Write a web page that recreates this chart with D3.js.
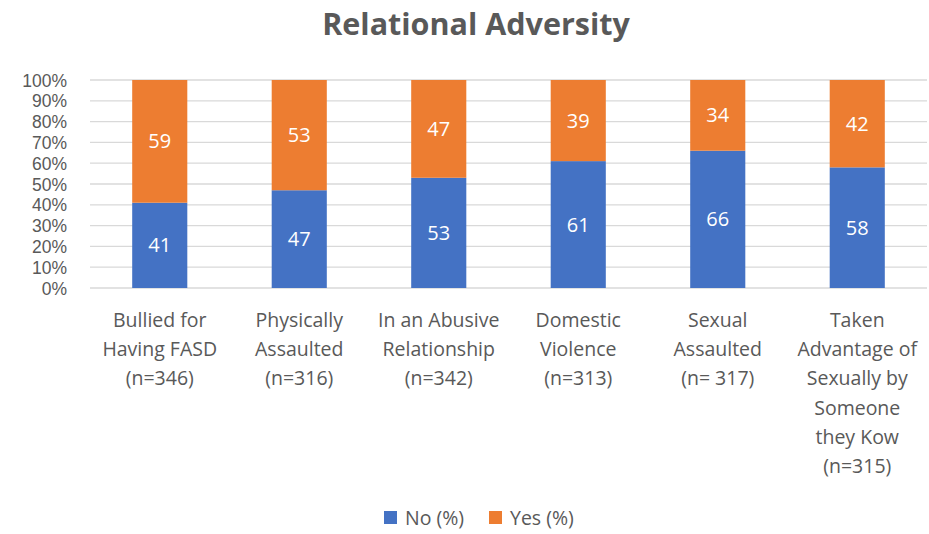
<!DOCTYPE html>
<html>
<head>
<meta charset="utf-8">
<script src="https://cdn.jsdelivr.net/npm/d3@7"></script>
<style>
  html, body { margin: 0; padding: 0; background: #fff; }
  svg { display: block; font-family: "Open Sans", "Liberation Sans", sans-serif; }
</style>
</head>
<body>
<svg id="chart" width="929" height="534"></svg>
<script>
const title = "Relational Adversity";
const categories = [
  "Bullied for Having FASD (n=346)",
  "Physically Assaulted (n=316)",
  "In an Abusive Relationship (n=342)",
  "Domestic Violence (n=313)",
  "Sexual Assaulted (n= 317)",
  "Taken Advantage of Sexually by Someone they Kow (n=315)"
];
const categoryLines = [
  ["Bullied for", "Having FASD", "(n=346)"],
  ["Physically", "Assaulted", "(n=316)"],
  ["In an Abusive", "Relationship", "(n=342)"],
  ["Domestic", "Violence", "(n=313)"],
  ["Sexual", "Assaulted", "(n= 317)"],
  ["Taken", "Advantage of", "Sexually by", "Someone", "they Kow", "(n=315)"]
];
const seriesNames = ["No (%)", "Yes (%)"];
const noValues = [41, 47, 53, 61, 66, 58];
const yesValues = [59, 53, 47, 39, 34, 42];
const yTicks = [0, 10, 20, 30, 40, 50, 60, 70, 80, 90, 100];
const colors = ["#4472C4", "#ED7D31"];

const svg = d3.select("#chart");
const x0 = 90, x1 = 927, y0 = 288, y1 = 80;

const x = d3.scaleBand().domain(categories).range([x0, x1]).paddingInner(0.605).paddingOuter(0.3025);
const y = d3.scaleLinear().domain([0, 100]).range([y0, y1]);

// gridlines
svg.append("g")
  .selectAll("line").data(yTicks).join("line")
  .attr("x1", x0).attr("x2", x1)
  .attr("y1", d => y(d)).attr("y2", d => y(d))
  .attr("stroke", "#d9d9d9").attr("stroke-width", 1.3);

// y axis labels
const yAxis = d3.axisLeft(y).tickValues(yTicks).tickFormat(d => d + "%").tickSize(0).tickPadding(0);
const yg = svg.append("g").attr("transform", `translate(67,0)`).call(yAxis);
yg.select(".domain").remove();
yg.selectAll("text").attr("fill", "#595959").style("font-size", "17.5px")
  .style("font-family", '"Liberation Sans", Arial, sans-serif').attr("dy", "0.35em");

// stacked data
const rows = categories.map((c, i) => ({ cat: c, no: noValues[i], yes: yesValues[i] }));
const stack = d3.stack().keys(["no", "yes"]);
const stacked = stack(rows);

const layer = svg.append("g").selectAll("g").data(stacked).join("g")
  .attr("fill", (d, i) => colors[i]);
layer.selectAll("rect").data(d => d).join("rect")
  .attr("x", d => x(d.data.cat))
  .attr("width", x.bandwidth())
  .attr("y", d => y(d[1]))
  .attr("height", d => y(d[0]) - y(d[1]));

// value labels
const lbl = svg.append("g").selectAll("g").data(stacked).join("g");
lbl.selectAll("text").data(d => d).join("text")
  .attr("x", d => x(d.data.cat) + x.bandwidth() / 2)
  .attr("y", d => (y(d[0]) + y(d[1])) / 2)
  .attr("dy", "0.35em")
  .attr("text-anchor", "middle")
  .attr("fill", "#ffffff")
  .style("font-size", "20px")
  .text(d => d[1] - d[0]);

// x category labels
const xg = svg.append("g");
categories.forEach((c, i) => {
  const t = xg.append("text")
    .attr("x", x(c) + x.bandwidth() / 2)
    .attr("y", 320)
    .attr("text-anchor", "middle")
    .attr("fill", "#595959")
    .style("font-size", "19.5px");
  categoryLines[i].forEach((ln, j) => {
    t.append("tspan").attr("x", x(c) + x.bandwidth() / 2)
      .attr("y", 320 + j * 29.3).attr("dy", "0.35em").text(ln);
  });
});

// title
svg.append("text")
  .attr("x", 476).attr("y", 35)
  .attr("text-anchor", "middle")
  .attr("fill", "#595959")
  .style("font-size", "30.5px").style("font-weight", "bold")
  .text(title);

// legend
const legend = svg.append("g");
const legendX = [384, 489];
seriesNames.forEach((s, i) => {
  legend.append("rect").attr("x", legendX[i]).attr("y", 511).attr("width", 13).attr("height", 13).attr("fill", colors[i]);
  legend.append("text").attr("x", legendX[i] + 21).attr("y", 518).attr("dy", "0.35em")
    .attr("fill", "#595959").style("font-size", "19.5px").text(s);
});
</script>
</body>
</html>
